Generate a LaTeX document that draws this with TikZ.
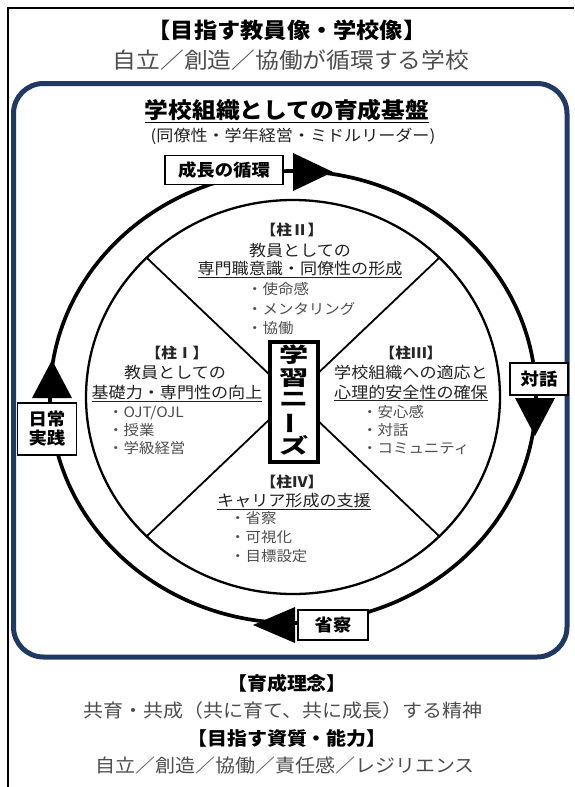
\documentclass[tikz,border=0pt]{standalone}
\usepackage{fontspec}
\setmainfont{Noto Sans CJK JP}[FakeStretch=1.08]
\definecolor{navy}{HTML}{1F3864}
\definecolor{txt}{HTML}{222222}
\definecolor{bul}{HTML}{4D4D4D}
\tikzset{
  lbl/.style={draw=black, line width=1.2pt, fill=white, inner sep=0pt, align=center,
    font=\bfseries\fontsize{17}{19}\selectfont},
  pnum/.style={font=\bfseries\fontsize{14.5}{16}\selectfont, text=black!85, inner sep=0pt, anchor=base},
  phead/.style={font=\fontsize{15.8}{18}\selectfont, text=txt, inner sep=0pt, anchor=base},
  bullet/.style={font=\fontsize{14.3}{17}\selectfont, text=bul, inner sep=0pt, anchor=base west},
  bigtitle/.style={font=\bfseries\fontsize{21.5}{24}\selectfont, inner sep=0pt, anchor=base},
  bigline/.style={font=\fontsize{22}{24}\selectfont, text=bul, inner sep=0pt, anchor=base},
  subtitle/.style={font=\bfseries\fontsize{18.5}{20}\selectfont, inner sep=0pt, anchor=base},
  subline/.style={font=\fontsize{18.5}{20}\selectfont, text=bul, inner sep=0pt, anchor=base},
  tri/.style={fill=black},
}
\begin{document}
\begin{tikzpicture}[x=1pt, y=-1pt]
\useasboundingbox (0,0) rectangle (574,787);
% outer frame (left and top edges)
\draw[line width=1.3pt] (8,787) -- (8,8) -- (574,8);
% titles
\node[bigtitle] (t1) at (287,38) {【目指す教員像・学校像】};
\node[bigline] (t2) at (291,68.5) {自立／創造／協働が循環する学校};
% navy rounded frame
\draw[navy, line width=5pt, rounded corners=30pt] (13.5,83.5) rectangle (567,657);
\node[font=\bfseries\fontsize{22}{24}\selectfont, inner sep=0pt, anchor=base] (h1) at (287,118) {\underline{学校組織としての育成基盤}};
\node[font=\fontsize{15.8}{17}\selectfont, text=txt, inner sep=0pt, anchor=base] (h2) at (293,141) {(同僚性・学年経営・ミドルリーダー)};
% rings
\coordinate (c) at (293,397);
\draw[line width=3.7pt] (c) ellipse [x radius=243, y radius=226];
\draw[line width=2.3pt] (c) ellipse [x radius=207, y radius=197];
\path (c) ++(45:207 and 197) coordinate (p45)
      (c) ++(135:207 and 197) coordinate (p135)
      (c) ++(225:207 and 197) coordinate (p225)
      (c) ++(315:207 and 197) coordinate (p315);
\draw[line width=1.8pt] (p45) -- (p225) (p135) -- (p315);
% central box
\node[draw, line width=3.5pt, fill=white, minimum width=48pt, minimum height=120pt, inner sep=0pt] (needs) at (294,402)
  {\scalebox{1}[0.76]{\fontsize{27}{28}\selectfont\bfseries\begin{tabular}{@{}c@{}}学\\習\\ニ\\\rotatebox[origin=c]{90}{ー}\\ズ\end{tabular}}};
% ring arrows
\fill[tri] (293,153) -- (333,172) -- (293,191) -- cycle;
\fill[tri] (515,398) -- (555,398) -- (535,436) -- cycle;
\fill[tri] (295,607) -- (253,625) -- (295,643) -- cycle;
\fill[tri] (32,398) -- (72,398) -- (52,360) -- cycle;
% ring labels
\node[lbl, minimum width=118pt, minimum height=29pt] (l1) at (224,170) {成長の循環};
\node[lbl, minimum width=58pt, minimum height=32pt] (l2) at (539,379) {対話};
\node[lbl, minimum width=70pt, minimum height=30pt] (l3) at (333,625) {省察};
\node[lbl, minimum width=59pt, minimum height=52pt] (l4) at (47,429) {日常\\実践};
% pillar II
\node[pnum] (n2) at (292,235) {【柱Ⅱ】};
\node[phead] (a2) at (300,256) {教員としての};
\node[phead] (b2) at (300,274) {\underline{専門職意識・同僚性の形成}};
\node[bullet] (c2a) at (247,294.5) {・使命感};
\node[bullet] (c2b) at (247,314.5) {・メンタリング};
\node[bullet] (c2c) at (247,333.5) {・協働};
% pillar I
\node[pnum] (n1) at (177,358) {【柱Ⅰ】};
\node[phead] (a1) at (175,378) {教員としての};
\node[phead] (b1) at (177,398) {\underline{基礎力・専門性の向上}};
\node[bullet] (c1a) at (108,417.5) {・OJT/OJL};
\node[bullet] (c1b) at (108,435.5) {・授業};
\node[bullet] (c1c) at (108,453.5) {・学級経営};
% pillar III
\node[pnum] (n3) at (411,358) {【柱Ⅲ】};
\node[phead] (a3) at (411,378) {学校組織への適応と};
\node[phead] (b3) at (411,398) {\underline{心理的安全性の確保}};
\node[bullet] (c3a) at (362,417.5) {・安心感};
\node[bullet] (c3b) at (362,435.5) {・対話};
\node[bullet] (c3c) at (362,453.5) {・コミュニティ};
% pillar IV
\node[pnum] (n4) at (292,487) {【柱Ⅳ】};
\node[phead] (b4) at (294,506) {\underline{キャリア形成の支援}};
\node[bullet] (c4a) at (230,523.5) {・省察};
\node[bullet] (c4b) at (230,542.5) {・可視化};
\node[bullet] (c4c) at (230,561.5) {・目標設定};
% bottom texts
\node[subtitle] (s1) at (287,690) {【育成理念】};
\node[subline] (s2) at (283,717) {共育・共成（共に育て、共に成長）する精神};
\node[subtitle] (s3) at (287,745) {【目指す資質・能力】};
\node[subline] (s4) at (285,772) {自立／創造／協働／責任感／レジリエンス};
\end{tikzpicture}
\end{document}
